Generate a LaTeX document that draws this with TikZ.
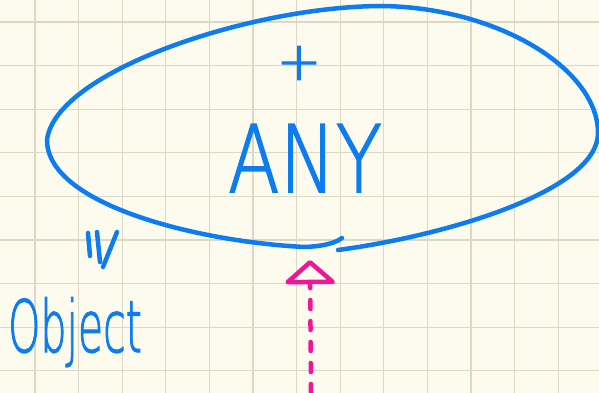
\documentclass[tikz,border=0pt]{standalone}
\usepackage{fontspec}
\newfontfamily\hand{DejaVu Sans ExtraLight}[FakeBold=1.8]
\usetikzlibrary{arrows.meta}
\definecolor{paper}{RGB}{253,251,238}
\definecolor{gridc}{RGB}{221,216,198}
\definecolor{inkblue}{RGB}{12,124,240}
\definecolor{inkpink}{RGB}{240,22,150}
\tikzset{
  ink/.style={draw=inkblue, line width=4.5pt, line cap=round, line join=round},
  pinkink/.style={draw=inkpink, line width=4.5pt, line cap=round, line join=round},
  handtext/.style={text=inkblue, inner sep=0pt, font=\hand},
}
\begin{document}
\begin{tikzpicture}[x=1pt,y=-1pt]
\useasboundingbox (0,0) rectangle (599,393);
\fill[paper] (0,0) rectangle (599,393);
% grid
\foreach \i in {0,...,13} {
  \draw[gridc, line width=1.3pt] ({35+43.6*\i},0) -- ({35+43.6*\i},393);
}
\foreach \j in {0,...,8} {
  \draw[gridc, line width=1.3pt] (0,{22+43.6*\j}) -- (599,{22+43.6*\j});
}
% ellipse (hand drawn)
\draw[ink] (338,250) .. controls (450,235) and (598,190) .. (598,133)
  .. controls (598,70) and (500,8) .. (383,6)
  .. controls (250,6) and (55,72) .. (47,140)
  .. controls (47,205) and (200,242) .. (305,247)
  .. controls (325,246) and (335,243) .. (342,238);
% plus
\node[handtext, font=\hand\fontsize{54}{54}\selectfont] (plus) at (299,63) {+};
% ANY
\node[handtext, font=\hand\fontsize{93}{93}\selectfont, xscale=0.81, anchor=base] (any) at (305,192) {ANY};
% equivalence marks
\draw[ink] (88,233) -- (90,256);
\draw[ink] (97,232) -- (100,262);
\draw[ink] (117,232) -- (103,267);
% Object
\node[handtext, font=\hand\fontsize{72}{72}\selectfont, xscale=0.57, anchor=base west] (obj) at (8,352) {Object};
% pink arrow
\coordinate (src) at (311,393);
\coordinate (tip) at (310,260);
\draw[pinkink, dash pattern=on 9pt off 12pt,
  -{Triangle[open, length=25pt, width=56pt, line width=4.5pt, round]}] (src) -- (tip);
\end{tikzpicture}
\end{document}
